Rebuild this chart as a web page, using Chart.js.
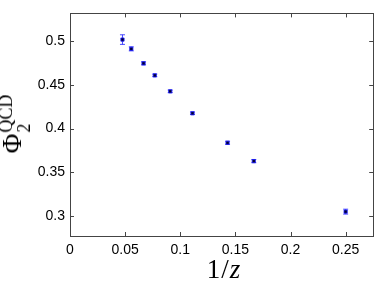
<!DOCTYPE html>
<html>
<head>
<meta charset="utf-8">
<script src="https://cdn.jsdelivr.net/npm/chart.js@4"></script>
<style>
  html, body { margin: 0; padding: 0; background: #fff; }
  #wrap { position: relative; width: 378px; height: 284px; }
  #chart { position: absolute; left: 0; top: 0; }
  .title { position: absolute; font-family: 'Liberation Serif', 'DejaVu Serif', serif; color: #000; white-space: nowrap; line-height: 1; }
  #ytitle { left: 15px; top: 124px; transform: translate(-50%, -50%) rotate(-90deg); font-size: 27px; }
  #ytitle .stack { display: inline-block; vertical-align: middle; font-size: 18px; line-height: 1.0; margin-left: 1px; }
  #xtitle { left: 224px; top: 269px; transform: translate(-50%, -50%); font-size: 27px; letter-spacing: 1px; }
</style>
</head>
<body>
<div id="wrap">
  <canvas id="chart" width="378" height="284"></canvas>
  <div class="title" id="ytitle">Φ<span class="stack">QCD<br>2</span></div>
  <div class="title" id="xtitle">1/<i>z</i></div>
</div>
<script>
// 1/z values and measured Phi_2^QCD
const invZ = [0.0476, 0.0556, 0.0667, 0.0769, 0.0909, 0.1111, 0.1429, 0.1667, 0.25];
const phi = [0.502, 0.4914, 0.4748, 0.461, 0.4427, 0.4176, 0.3838, 0.3628, 0.3049];
const phiErr = [0.0055, 0.0023, 0.0018, 0.0015, 0.0015, 0.0015, 0.0018, 0.0018, 0.0028];

const xTicks = [0, 0.05, 0.1, 0.15, 0.2, 0.25];
const yTicks = [0.3, 0.35, 0.4, 0.45, 0.5];

const tickFont = { family: "'Liberation Sans', Arial, sans-serif", size: 14 };

function fmt(v) {
  return String(Number(v.toFixed(3)));
}

// error bars, drawn under the markers
const errorBars = {
  id: 'errorBars',
  beforeDatasetsDraw(chart) {
    const { ctx, scales: { x, y } } = chart;
    ctx.save();
    ctx.strokeStyle = 'rgba(40, 40, 255, 0.85)';
    ctx.lineWidth = 1;
    invZ.forEach((v, i) => {
      const px = x.getPixelForValue(v);
      const top = y.getPixelForValue(phi[i] + phiErr[i]);
      const bot = y.getPixelForValue(phi[i] - phiErr[i]);
      ctx.beginPath();
      ctx.moveTo(px, top);
      ctx.lineTo(px, bot);
      ctx.moveTo(px - 2.5, top);
      ctx.lineTo(px + 2.5, top);
      ctx.moveTo(px - 2.5, bot);
      ctx.lineTo(px + 2.5, bot);
      ctx.stroke();
    });
    ctx.restore();
  },
};

// matlab style box with inward ticks on all four sides
const boxAxes = {
  id: 'boxAxes',
  afterDraw(chart) {
    const { ctx, chartArea: a, scales: { x, y } } = chart;
    const len = 4;
    ctx.save();
    ctx.strokeStyle = '#444';
    ctx.lineWidth = 1;
    ctx.beginPath();
    xTicks.forEach((t) => {
      const px = Math.round(x.getPixelForValue(t)) + 0.5;
      ctx.moveTo(px, a.bottom);
      ctx.lineTo(px, a.bottom - len);
      ctx.moveTo(px, a.top);
      ctx.lineTo(px, a.top + len);
    });
    yTicks.forEach((t) => {
      const py = Math.round(y.getPixelForValue(t)) + 0.5;
      ctx.moveTo(a.left, py);
      ctx.lineTo(a.left + len, py);
      ctx.moveTo(a.right, py);
      ctx.lineTo(a.right - len, py);
    });
    ctx.stroke();
    ctx.strokeRect(Math.round(a.left) + 0.5, Math.round(a.top) + 0.5,
      Math.round(a.right - a.left), Math.round(a.bottom - a.top));
    ctx.restore();
  },
};

new Chart(document.getElementById('chart'), {
  type: 'scatter',
  data: {
    datasets: [{
      data: invZ.map((v, i) => ({ x: v, y: phi[i] })),
      pointStyle: 'rect',
      pointRadius: 2.3,
      pointBackgroundColor: '#000030',
      pointBorderColor: '#2020ff',
      pointBorderWidth: 0.8,
    }],
  },
  options: {
    responsive: false,
    animation: false,
    layout: { padding: { top: 9, right: 2, left: 0, bottom: 0 } },
    scales: {
      x: {
        type: 'linear',
        min: 0,
        max: 0.275,
        afterBuildTicks(scale) { scale.ticks = xTicks.map((v) => ({ value: v })); },
        afterFit(scale) { scale.height = 48; },
        grid: { display: false, drawTicks: false },
        border: { display: false },
        ticks: { font: tickFont, color: '#000', padding: 6, maxRotation: 0, callback: fmt },
      },
      y: {
        type: 'linear',
        min: 0.277,
        max: 0.532,
        afterBuildTicks(scale) { scale.ticks = yTicks.map((v) => ({ value: v })); },
        afterFit(scale) { scale.width = 70; },
        grid: { display: false, drawTicks: false },
        border: { display: false },
        ticks: { font: tickFont, color: '#000', padding: 5, callback: fmt },
      },
    },
    plugins: {
      legend: { display: false },
      tooltip: { enabled: false },
    },
  },
  plugins: [errorBars, boxAxes],
});
</script>
</body>
</html>
